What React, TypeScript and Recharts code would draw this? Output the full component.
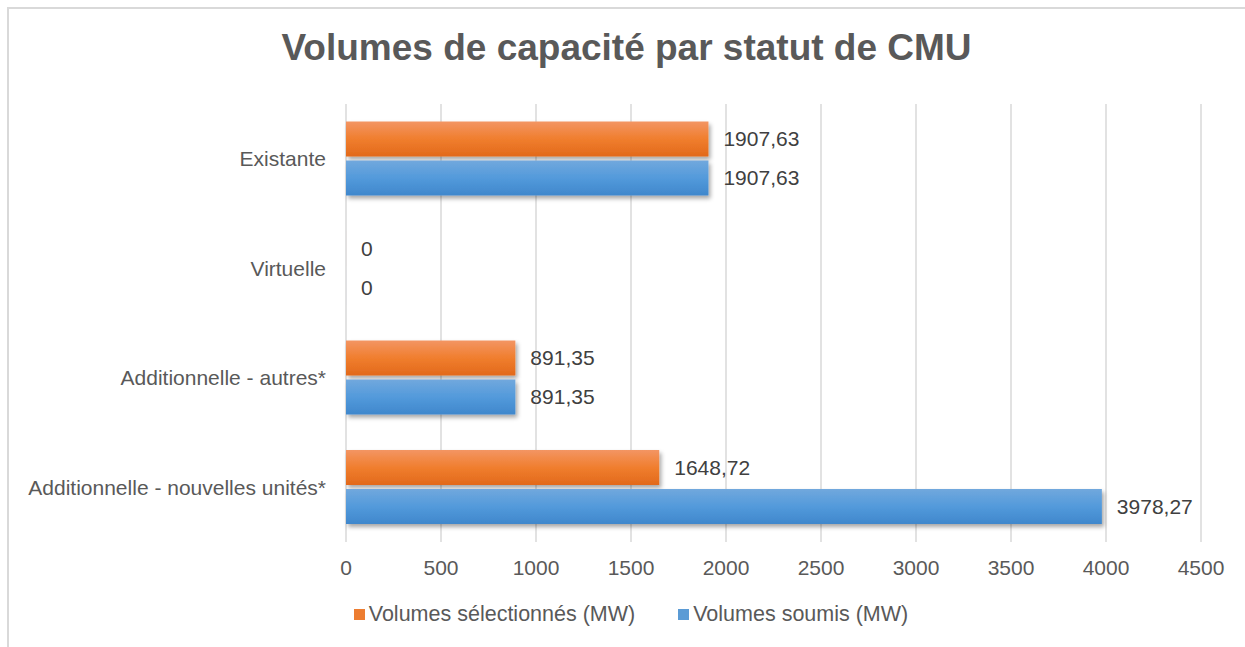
import React from "react";
import { BarChart, Bar, XAxis, YAxis, CartesianGrid, Legend, LabelList } from "recharts";

const categories = ["Existante", "Virtuelle", "Additionnelle - autres*", "Additionnelle - nouvelles unités*"];
const selectionnes = [1907.63, 0, 891.35, 1648.72];
const soumis = [1907.63, 0, 891.35, 3978.27];
const xTicks = [0, 500, 1000, 1500, 2000, 2500, 3000, 3500, 4000, 4500];

const SERIES = [
  { key: "selectionnes", name: "Volumes sélectionnés (MW)", color: "#ED7D31", grad: "gradOrange" },
  { key: "soumis", name: "Volumes soumis (MW)", color: "#5B9BD5", grad: "gradBlue" },
];

const FONT = "'Liberation Sans', Arial, sans-serif";

const fmt = (v: number) => String(v).replace(".", ",");

function LegendContent() {
  return (
    <div
      style={{
        display: "flex",
        justifyContent: "center",
        gap: 43,
        height: 18,
        lineHeight: "18px",
        fontFamily: FONT,
        fontSize: 21.5,
        color: "#595959",
        paddingLeft: 51,
      }}
    >
      {SERIES.map((s) => (
        <div key={s.key} style={{ display: "flex", alignItems: "center", gap: 4 }}>
          <div style={{ width: 11, height: 11, background: s.color }} />
          <span>{s.name}</span>
        </div>
      ))}
    </div>
  );
}

// custom label so zero values still get their "0"
function ValueLabel(props: any) {
  const { x, y, width, height, value } = props;
  return (
    <text
      x={Number(x) + Number(width || 0) + 15}
      y={Number(y) + Number(height) / 2}
      dy="0.355em"
      textAnchor="start"
      fill="#404040"
      fontSize={21}
      fontFamily={FONT}
    >
      {fmt(value)}
    </text>
  );
}

export default function App() {
  const data = categories.map((name, i) => ({ name, selectionnes: selectionnes[i], soumis: soumis[i] }));

  return (
    <div style={{ position: "absolute", left: 0, top: 0, width: 1245, height: 647, background: "#fff", overflow: "hidden" }}>
      <div style={{ position: "absolute", left: 7, top: 7, width: 1300, height: 700, borderLeft: "2px solid #d9d9d9", borderTop: "2px solid #d9d9d9" }} />
      <div
        style={{
          position: "absolute",
          left: 0,
          width: 1253,
          top: 48 - 22,
          height: 44,
          lineHeight: "44px",
          textAlign: "center",
          fontFamily: FONT,
          fontWeight: "bold",
          fontSize: 37,
          color: "#595959",
        }}
      >
        Volumes de capacité par statut de CMU
      </div>
      <div style={{ position: "absolute", left: 0, top: 0 }}>
        <BarChart
          width={1245}
          height={647}
          data={data}
          layout="vertical"
          margin={{ top: 104, right: 44, left: 10, bottom: 57 }}
          barCategoryGap="16%"
          barGap={4}
        >
          <defs>
            <linearGradient id="gradOrange" x1="0" y1="0" x2="0" y2="1">
              <stop offset="0%" stopColor="#F39563" />
              <stop offset="50%" stopColor="#F07E2E" />
              <stop offset="100%" stopColor="#E2691B" />
            </linearGradient>
            <linearGradient id="gradBlue" x1="0" y1="0" x2="0" y2="1">
              <stop offset="0%" stopColor="#71A8DD" />
              <stop offset="50%" stopColor="#539ADB" />
              <stop offset="100%" stopColor="#3F87CC" />
            </linearGradient>
            <filter id="barShadow" x="-5%" y="-20%" width="110%" height="160%">
              <feDropShadow dx="2" dy="3" stdDeviation="2" floodColor="#000" floodOpacity="0.35" />
            </filter>
          </defs>
          <CartesianGrid horizontal={false} stroke="#d9d9d9" strokeWidth={1.5} />
          <XAxis
            type="number"
            domain={[0, 4500]}
            ticks={xTicks}
            tickLine={false}
            axisLine={false}
            tickMargin={12}
            height={30}
            tick={{ fill: "#595959", fontSize: 21, fontFamily: FONT }}
          />
          <YAxis
            type="category"
            dataKey="name"
            width={336}
            tickLine={false}
            axisLine={false}
            tickMargin={14}
            tick={{ fill: "#595959", fontSize: 21, fontFamily: FONT }}
          />
          <Legend verticalAlign="bottom" content={<LegendContent />} wrapperStyle={{ bottom: 24 }} />
          {SERIES.map((s) => (
            <Bar
              key={s.key}
              dataKey={s.key}
              name={s.name}
              fill={`url(#${s.grad})`}
              filter="url(#barShadow)"
              minPointSize={0.01}
              isAnimationActive={false}
            >
              <LabelList dataKey={s.key} content={ValueLabel} />
            </Bar>
          ))}
        </BarChart>
      </div>
    </div>
  );
}
